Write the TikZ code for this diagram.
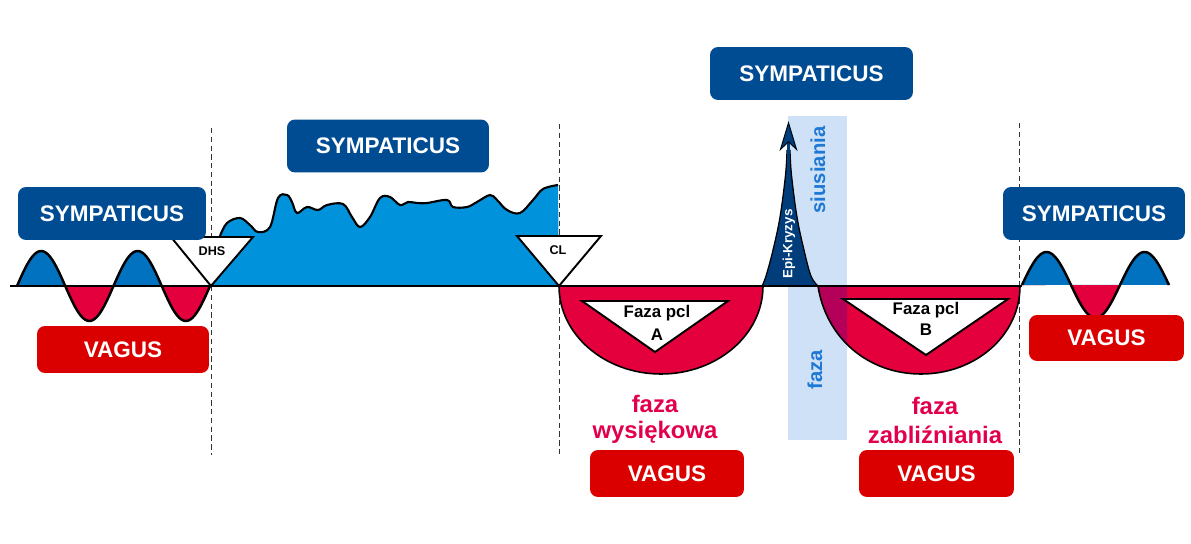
\documentclass[tikz,border=0pt]{standalone}
\usepackage{fontspec}
\setmainfont{Liberation Sans}
\usetikzlibrary{arrows.meta}
\definecolor{symp}{RGB}{0,76,147}
\definecolor{vag}{RGB}{218,0,0}
\definecolor{wblue}{RGB}{0,114,192}
\definecolor{pblue}{RGB}{0,146,218}
\definecolor{wred}{RGB}{227,0,60}
\definecolor{spk}{RGB}{0,61,122}
\definecolor{bandc}{RGB}{206,225,246}
\definecolor{overlapc}{RGB}{180,0,88}
\definecolor{crim}{RGB}{226,0,78}
\definecolor{bandtxt}{RGB}{30,120,212}
\begin{document}
\begin{tikzpicture}[x=0.02cm,y=-0.02cm,
  sympbox/.style={fill=symp, rounded corners=0.16cm, text=white, font=\fontsize{12.8}{14}\selectfont\bfseries, inner sep=0pt, minimum height=1.06cm},
  vagbox/.style={fill=vag, rounded corners=0.16cm, text=white, font=\fontsize{12.8}{14}\selectfont\bfseries, inner sep=0pt, minimum height=0.94cm},
  wave/.style={line width=1.4pt, black},
  outline/.style={line width=0.9pt, black},
  tri/.style={fill=white, draw=black, line width=1.1pt, line join=miter},
  tritext/.style={font=\fontsize{7.2}{8}\selectfont\bfseries, inner sep=0pt},
  pcltext/.style={font=\fontsize{9.6}{11}\selectfont\bfseries, inner sep=0pt},
  phasetext/.style={font=\fontsize{13.6}{15}\selectfont\bfseries, text=crim, inner sep=0pt},
  bandlabel/.style={font=\fontsize{11.5}{13}\selectfont\bfseries, text=bandtxt, rotate=90, inner sep=0pt},
  divider/.style={dashed, dash pattern=on 3pt off 2pt, line width=0.5pt, black!80}
]
\useasboundingbox (0,0) rectangle (1191,544);

% light blue band
\fill[bandc] (788,116) rectangle (847,440);

% dashed dividers
\coordinate (d1t) at (211,128); \coordinate (d1b) at (211,455);
\coordinate (d2t) at (559,124); \coordinate (d2b) at (559,455);
\coordinate (d3t) at (1019,123); \coordinate (d3b) at (1019,455);
\draw[divider] (d1t) -- (d1b);
\draw[divider] (d2t) -- (d2b);
\draw[divider] (d3t) -- (d3b);

% wave fills
\begin{scope}
  \clip (0,0) rectangle (1191,286);
  \fill[wblue] (17,286) -- plot[domain=17:210,samples=120] (\x,{286-35*sin((\x-17)/96.5*360)}) -- cycle;
  \fill[wblue] (1022,285) -- plot[domain=1022:1169,samples=100] (\x,{285-33*sin((\x-1022)/98*360)}) -- cycle;
\end{scope}
\begin{scope}
  \clip (0,286) rectangle (1191,544);
  \fill[wred] (17,286) -- plot[domain=17:210,samples=120] (\x,{286-35*sin((\x-17)/96.5*360)}) -- cycle;
\end{scope}
\begin{scope}
  \clip (0,285) rectangle (1191,544);
  \fill[wred] (1022,285) -- plot[domain=1022:1169,samples=100] (\x,{285-33*sin((\x-1022)/98*360)}) -- cycle;
\end{scope}

% plateau
\fill[pblue] (212,286) -- plot[smooth,tension=0.6] coordinates {(220,236) (227,223) (240,218) (250,225) (258,232) (270,227) (278,198) (287,195) (292,202) (297,213) (307,207) (318,210) (327,205) (343,204) (352,217) (360,227) (370,217) (380,198) (390,197) (400,205) (408,202) (417,203) (427,203) (447,200) (453,207) (467,207) (477,202) (490,195) (497,200) (507,210) (520,213) (533,200) (543,189) (558,185)} -- (559,286) -- cycle;
\draw[wave, line width=1.2pt] plot[smooth,tension=0.6] coordinates {(220,236) (227,223) (240,218) (250,225) (258,232) (270,227) (278,198) (287,195) (292,202) (297,213) (307,207) (318,210) (327,205) (343,204) (352,217) (360,227) (370,217) (380,198) (390,197) (400,205) (408,202) (417,203) (427,203) (447,200) (453,207) (467,207) (477,202) (490,195) (497,200) (507,210) (520,213) (533,200) (543,189) (558,185)};

% bowls
\fill[wred] (559,286) .. controls (559,334.6) and (604.7,374) .. (661,374) .. controls (717.3,374) and (763,334.6) .. (763,286) -- cycle;
\fill[wred] (818,286) .. controls (826,338) and (868,374) .. (921,374) .. controls (976,374) and (1020,335) .. (1020,286) -- cycle;
\begin{scope}
  \clip (788,116) rectangle (847,440);
  \fill[overlapc] (818,286) .. controls (826,338) and (868,374) .. (921,374) .. controls (976,374) and (1020,335) .. (1020,286) -- cycle;
\end{scope}

% spike
\fill[spk] plot[smooth,tension=0.6] coordinates {(762,286) (766,276) (773,250) (780,217) (785.5,175) (787,150)} -- plot[smooth,tension=0.6] coordinates {(790,150) (791.5,175) (797,217) (804,250) (811,276) (818,286)} -- cycle;
\draw[outline, line width=0.7pt] plot[smooth,tension=0.6] coordinates {(762,286) (766,276) (773,250) (780,217) (785.5,175) (787,150)};
\draw[outline, line width=0.7pt] plot[smooth,tension=0.6] coordinates {(790,150) (791.5,175) (797,217) (804,250) (811,276) (818,286)};
\coordinate (spiketop) at (788.5,170);
\coordinate (arrowtip) at (788.5,121);
\draw[spk, line width=1.6pt, -{Stealth[length=0.6cm,width=0.36cm,inset=0.17cm,color=black!80!spk,fill=spk,line width=0.6pt]}] (spiketop) -- (arrowtip);

% outlines
\draw[outline] (559,286) .. controls (559,334.6) and (604.7,374) .. (661,374) .. controls (717.3,374) and (763,334.6) .. (763,286);
\draw[outline] (818,286) .. controls (826,338) and (868,374) .. (921,374) .. controls (976,374) and (1020,335) .. (1020,286);

% baseline
\coordinate (bl) at (10,286); \coordinate (br) at (1022,286);
\draw[black, line width=1.3pt] (bl) -- (br);

% wave curves
\draw[wave] plot[domain=17:210,samples=120] (\x,{286-35*sin((\x-17)/96.5*360)});
\draw[wave] plot[domain=1022:1169,samples=100] (\x,{285-33*sin((\x-1022)/98*360)});

% triangles
\draw[tri] (171,237) -- (253,237) -- (211,286) -- cycle;
\node[tritext] (dhs) at (212,251) {DHS};
\draw[tri] (517,236) -- (601,236) -- (559,286) -- cycle;
\node[tritext] (cl) at (558,250) {CL};
\draw[tri] (582,301) -- (728,301) -- (655,352) -- cycle;
\node[pcltext] (pa1) at (657,313) {Faza pcl};
\node[pcltext] (pa2) at (657,335) {A};
\draw[tri] (843,299) -- (1008,299) -- (926,355) -- cycle;
\node[pcltext] (pb1) at (926,310) {Faza pcl};
\node[pcltext] (pb2) at (926,330) {B};

% spike label
\node[font=\fontsize{7.6}{9}\selectfont\bfseries, text=white, rotate=90, inner sep=0pt] (epi) at (789,244) {Epi-Kryzys};

% band labels
\node[bandlabel] (siu) at (818,170) {siusiania};
\node[bandlabel] (fz) at (815,370) {faza};

% boxes
\node[sympbox, minimum width=3.76cm] (s1) at (112,213.5) {SYMPATICUS};
\node[sympbox, minimum width=4.04cm] (s2) at (388,146) {SYMPATICUS};
\node[sympbox, minimum width=4.06cm] (s3) at (811.5,73.5) {SYMPATICUS};
\node[sympbox, minimum width=3.64cm] (s4) at (1094,213.5) {SYMPATICUS};
\node[vagbox, minimum width=3.44cm] (v1) at (123,349.5) {VAGUS};
\node[vagbox, minimum width=3.08cm] (v2) at (667,473.5) {VAGUS};
\node[vagbox, minimum width=3.10cm] (v3) at (936.5,473.5) {VAGUS};
\node[vagbox, minimum width=3.10cm, minimum height=0.92cm] (v4) at (1106.5,338) {VAGUS};

% phase labels
\node[phasetext] (fa1) at (655,404) {faza};
\node[phasetext] (fa2) at (655,432) {wysiękowa};
\node[phasetext] (fb1) at (935,406) {faza};
\node[phasetext] (fb2) at (935,435) {zabliźniania};
\end{tikzpicture}
\end{document}
